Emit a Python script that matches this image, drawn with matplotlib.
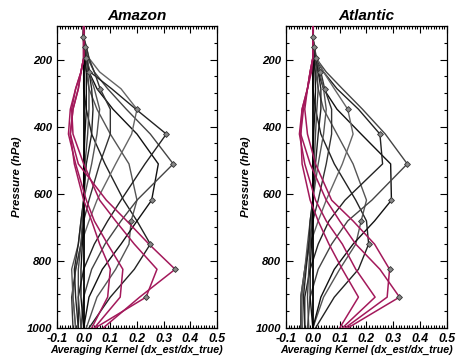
"""Averaging kernels, Amazon vs Atlantic."""
import matplotlib
matplotlib.use('Agg')
import matplotlib.pyplot as plt
from matplotlib.ticker import MultipleLocator

plt.rcParams['font.family'] = ['Liberation Sans', 'DejaVu Sans']
plt.rcParams['font.weight'] = 'bold'
plt.rcParams['font.style'] = 'italic'
plt.rcParams['axes.titleweight'] = 'bold'
plt.rcParams['axes.labelweight'] = 'bold'

# pressure levels (hPa) the kernel rows are given on
pres = [1000, 908, 825, 750, 681, 619, 511, 422, 348, 287, 237, 196, 162, 133, 100]

# ═══ Amazon ═══
amz_gray_lev = [750, 681, 619, 511, 422, 348, 287, 237, 196, 162, 133]
amz_gray = [
    [0.02, 0.10, 0.19, 0.25, 0.20, 0.15, 0.08, 0.03, 0.01, 0, 0, 0, 0, 0, 0],
    [0.01, 0.05, 0.12, 0.17, 0.178, 0.20, 0.17, 0.10, 0.05, 0.02, 0.01, 0, 0, 0, 0],
    [0.0, 0.02, 0.07, 0.14, 0.20, 0.255, 0.28, 0.20, 0.11, 0.05, 0.02, 0.01, 0, 0, 0],
    [-0.01, 0.0, 0.03, 0.08, 0.14, 0.20, 0.336, 0.25, 0.16, 0.09, 0.04, 0.015, 0.005, 0, 0],
    [-0.02, -0.02, 0.0, 0.04, 0.09, 0.14, 0.23, 0.31, 0.196, 0.105, 0.024, 0.01, 0.005, 0, 0],
    [-0.03, -0.04, -0.03, -0.01, 0.02, 0.05, 0.12, 0.18, 0.20, 0.14, 0.06, 0.02, 0.01, 0, 0],
    [-0.04, -0.045, -0.03, -0.01, 0.0, 0.02, 0.06, 0.10, 0.10, 0.062, 0.04, 0.02, 0.01, 0, 0],
    [-0.03, -0.04, -0.045, -0.02, -0.01, 0.0, 0.03, 0.05, 0.06, 0.04, 0.02, 0.015, 0.005, 0, 0],
    [-0.02, -0.03, -0.035, -0.02, -0.01, 0.0, 0.01, 0.03, 0.035, 0.03, 0.02, 0.01, 0.005, 0, 0],
    [-0.01, -0.02, -0.02, -0.01, -0.005, 0, 0.005, 0.015, 0.02, 0.02, 0.015, 0.01, 0.005, 0, 0],
    [0, -0.01, -0.01, -0.005, 0, 0, 0, 0.005, 0.01, 0.01, 0.01, 0.005, 0.003, -0.003, 0],
]
amz_mag_lev = [825, 908, 1000, None]
amz_mag = [
    [0.073, 0.21, 0.343, 0.245, 0.162, 0.085, -0.02, -0.05, -0.04, -0.02, -0.01, 0, 0, 0, 0],
    [0.043, 0.234, 0.275, 0.19, 0.12, 0.06, 0.0, -0.04, -0.045, -0.03, -0.01, 0, 0, 0, 0],
    [0.04, 0.137, 0.147, 0.09, 0.04, 0.01, -0.03, -0.057, -0.05, -0.03, -0.01, 0, 0, 0, 0],
    [0.03, 0.09, 0.10, 0.06, 0.03, 0.0, -0.035, -0.05, -0.04, -0.02, -0.01, 0, 0, 0, 0],
]

# ═══ Atlantic ═══
atl_gray_lev = [750, 681, 619, 511, 422, 348, 287, 237, 196, 162, 133]
atl_gray = [
    [0.01, 0.08, 0.17, 0.208, 0.20, 0.16, 0.08, 0.03, 0.01, 0, 0, 0, 0, 0, 0],
    [0.0, 0.04, 0.10, 0.16, 0.18, 0.20, 0.15, 0.09, 0.04, 0.02, 0.01, 0, 0, 0, 0],
    [0.0, 0.03, 0.08, 0.15, 0.23, 0.293, 0.29, 0.18, 0.09, 0.04, 0.02, 0.005, 0, 0, 0],
    [-0.02, -0.01, 0.02, 0.07, 0.13, 0.22, 0.352, 0.27, 0.185, 0.11, 0.05, 0.012, 0.005, 0, 0],
    [-0.03, -0.03, -0.01, 0.02, 0.06, 0.12, 0.26, 0.25, 0.17, 0.09, 0.04, 0.01, 0.005, 0, 0],
    [-0.04, -0.04, -0.03, -0.01, 0.02, 0.05, 0.11, 0.15, 0.13, 0.08, 0.04, 0.015, 0.005, 0, 0],
    [-0.045, -0.045, -0.03, -0.015, 0.0, 0.02, 0.05, 0.07, 0.07, 0.044, 0.03, 0.01, 0.005, 0, 0],
    [-0.04, -0.045, -0.03, -0.02, -0.01, 0.0, 0.02, 0.04, 0.05, 0.04, 0.025, 0.01, 0.005, 0, 0],
    [-0.03, -0.035, -0.025, -0.015, -0.01, 0, 0.01, 0.02, 0.03, 0.03, 0.02, 0.01, 0.004, 0, 0],
    [-0.015, -0.02, -0.015, -0.01, -0.005, 0, 0.005, 0.01, 0.015, 0.02, 0.015, 0.008, 0.003, 0, 0],
    [0, -0.01, -0.01, -0.005, 0, 0, 0, 0.003, 0.008, 0.01, 0.008, 0.005, 0.002, 0.0, 0],
]
atl_mag_lev = [908, 825, 1000, None]
atl_mag = [
    [0.13, 0.323, 0.25, 0.16, 0.10, 0.05, -0.01, -0.045, -0.04, -0.02, -0.01, 0, 0, 0, 0],
    [0.12, 0.277, 0.286, 0.23, 0.15, 0.07, 0.01, -0.02, -0.03, -0.02, -0.01, 0, 0, 0, 0],
    [0.11, 0.232, 0.16, 0.11, 0.05, 0.01, -0.03, -0.05, -0.04, -0.02, -0.01, 0, 0, 0, 0],
    [0.10, 0.17, 0.11, 0.06, 0.02, -0.01, -0.04, -0.045, -0.035, -0.02, -0.005, 0, 0, 0, 0],
]

GRAYS = ['#222222', '#555555', '#111111', '#444444', '#222222', '#666666',
         '#333333', '#555555', '#222222', '#444444', '#111111']
MAG = '#a3195b'

fig = plt.figure(figsize=(4.57, 3.63), dpi=100)
ax1 = fig.add_axes([0.1247, 0.0964, 0.3501, 0.8320])
ax2 = fig.add_axes([0.6258, 0.0964, 0.3523, 0.8320])


def draw_panel(ax, title, gray, gray_lev, mag, mag_lev):
    ax.axvline(0, color='black', lw=1.3, zorder=2.5)
    for i, (row, lev) in enumerate(zip(gray, gray_lev)):
        ax.plot(row, pres, color=GRAYS[i % len(GRAYS)], lw=1.0, zorder=2)
        k = pres.index(lev)
        ax.plot(row[k], lev, marker='D', ms=3, mfc='#888888', mec='#333333', mew=0.6, zorder=4)
    for row, lev in zip(mag, mag_lev):
        ax.plot(row, pres, color=MAG, lw=1.1, zorder=3)
        if lev is not None and lev < 1000:
            k = pres.index(lev)
            ax.plot(row[k], lev, marker='D', ms=3, mfc='#888888', mec='#333333', mew=0.6, zorder=4)
    ax.set_xlim(-0.1, 0.5)
    ax.set_ylim(1000, 100)
    ax.xaxis.set_major_locator(MultipleLocator(0.1))
    ax.xaxis.set_minor_locator(MultipleLocator(0.01))
    ax.yaxis.set_major_locator(MultipleLocator(200))
    ax.yaxis.set_minor_locator(MultipleLocator(50))
    ax.set_xticks([-0.1, 0.0, 0.1, 0.2, 0.3, 0.4, 0.5])
    ax.set_xticklabels(['-0.1', '0.0', '0.1', '0.2', '0.3', '0.4', '0.5'])
    ax.set_yticks([200, 400, 600, 800, 1000])
    ax.tick_params(which='both', direction='in', top=True, right=True, width=0.8)
    ax.tick_params(axis='x', labelsize=8.8)
    ax.tick_params(axis='y', labelsize=8.2)
    ax.tick_params(which='major', length=5)
    ax.tick_params(which='minor', length=2.5)
    for sp in ax.spines.values():
        sp.set_linewidth(0.9)
    ax.set_title(title, fontsize=11, pad=4)
    ax.set_xlabel('Averaging Kernel (dx_est/dx_true)', fontsize=7.7, labelpad=0)
    ax.set_ylabel('Pressure (hPa)', fontsize=8.2, labelpad=3)


draw_panel(ax1, 'Amazon', amz_gray, amz_gray_lev, amz_mag, amz_mag_lev)
draw_panel(ax2, 'Atlantic', atl_gray, atl_gray_lev, atl_mag, atl_mag_lev)

fig.savefig('out.png', dpi=100)
